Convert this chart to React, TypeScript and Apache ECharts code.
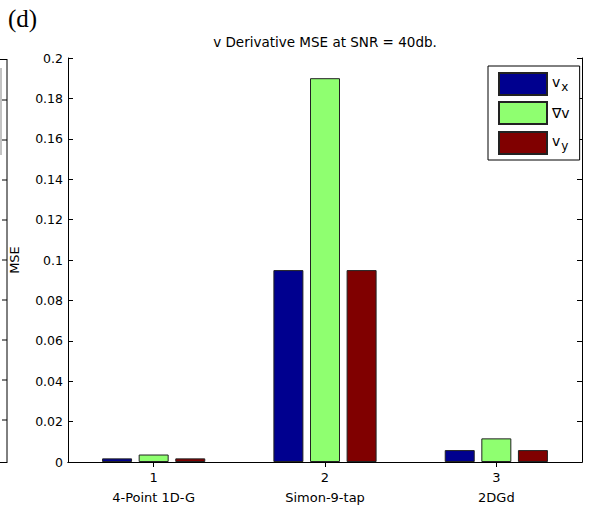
import React, { useEffect, useRef } from "react";
import * as echarts from "echarts";

const categoryNumbers = ["1", "2", "3"];
const methodNames = ["4-Point 1D-G", "Simon-9-tap", "2DGd"];
const seriesNames = ["v_x", "∇v", "v_y"];
const vxValues = [0.0018, 0.095, 0.0059];
const gradValues = [0.0037, 0.19, 0.0117];
const vyValues = [0.0018, 0.095, 0.0059];
const yTicks = { min: 0, max: 0.2, interval: 0.02 };
const titleText = "v Derivative MSE at SNR = 40db.";
const yAxisName = "MSE";
const panelLabel = "(d)";

const colors = ["#00008F", "#8FFF70", "#800000"];
const FONT = "DejaVu Sans";

export default function App() {
  const ref = useRef<HTMLDivElement>(null);
  useEffect(() => {
    if (!ref.current) return;
    const chart = echarts.init(ref.current, undefined, { renderer: "svg" });
    const values = [vxValues, gradValues, vyValues];
    const prevTicks: any[] = [];
    for (let k = 1; k <= 9; k++) {
      const y = 60 + k * 40;
      prevTicks.push({
        type: "line",
        shape: { x1: 2, y1: y, x2: 7, y2: y },
        style: { stroke: "#000", lineWidth: 1 },
        silent: true,
      });
    }
    const option: any = {
      animation: false,
      backgroundColor: "#fff",
      title: {
        text: titleText,
        left: 325,
        top: 35,
        textAlign: "center",
        padding: 0,
        textStyle: { fontFamily: FONT, fontSize: 13.5, fontWeight: "normal", color: "#000" },
      },
      grid: { left: 68, right: 13, top: 58, bottom: 46, containLabel: false },
      legend: {
        orient: "vertical",
        left: 488,
        top: 66,
        padding: [5, 10, 5, 10],
        itemGap: 5,
        itemWidth: 48,
        itemHeight: 22,
        icon: "rect",
        borderColor: "#000",
        borderWidth: 1,
        backgroundColor: "#fff",
        data: seriesNames,
        formatter: (name: string) => {
          if (name === "v_x") return "{v|v}{s|x}";
          if (name === "v_y") return "{v|v}{s|y}";
          return "{g|" + name + "}";
        },
        textStyle: {
          fontFamily: FONT,
          fontSize: 14,
          color: "#000",
          rich: {
            v: { fontFamily: FONT, fontSize: 14, color: "#000", verticalAlign: "top", lineHeight: 18 },
            g: { fontFamily: FONT, fontSize: 14, color: "#000", lineHeight: 18 },
            s: { fontFamily: FONT, fontSize: 12, color: "#000", verticalAlign: "bottom", lineHeight: 12, padding: [10, 0, 0, 1] },
          },
        },
      },
      xAxis: [
        {
          type: "category",
          data: categoryNumbers,
          position: "bottom",
          axisLine: { show: true, lineStyle: { color: "#000", width: 1 } },
          axisTick: { show: true, inside: true, length: 5, alignWithLabel: true, lineStyle: { color: "#000" } },
          axisLabel: {
            margin: 5,
            fontFamily: FONT,
            fontSize: 13,
            color: "#000",
            lineHeight: 20,
            formatter: (v: string, i: number) => v + "\n" + methodNames[i],
          },
          splitLine: { show: false },
        },
        {
          type: "category",
          data: categoryNumbers,
          position: "top",
          axisLine: { show: true, lineStyle: { color: "#000", width: 1 } },
          axisTick: { show: true, inside: true, length: 5, alignWithLabel: true, lineStyle: { color: "#000" } },
          axisLabel: { show: false },
          splitLine: { show: false },
        },
      ],
      yAxis: [
        {
          type: "value",
          min: yTicks.min,
          max: yTicks.max,
          interval: yTicks.interval,
          name: yAxisName,
          nameLocation: "middle",
          nameRotate: 90,
          nameGap: 47,
          nameTextStyle: { fontFamily: FONT, fontSize: 13, color: "#000" },
          axisLine: { show: true, lineStyle: { color: "#000", width: 1 } },
          axisTick: { show: true, inside: true, length: 5, lineStyle: { color: "#000" } },
          axisLabel: {
            margin: 5,
            fontFamily: FONT,
            fontSize: 12.5,
            color: "#000",
            formatter: (v: number) => String(parseFloat(v.toFixed(2))),
          },
          splitLine: { show: false },
        },
        {
          type: "value",
          position: "right",
          min: yTicks.min,
          max: yTicks.max,
          interval: yTicks.interval,
          axisLine: { show: true, lineStyle: { color: "#000", width: 1 } },
          axisTick: { show: true, inside: true, length: 5, lineStyle: { color: "#000" } },
          axisLabel: { show: false },
          splitLine: { show: false },
        },
      ],
      series: seriesNames.map((name, i) => ({
        name,
        type: "bar",
        xAxisIndex: 0,
        yAxisIndex: 0,
        data: values[i],
        barWidth: 30,
        barGap: "22%",
        itemStyle: { color: colors[i], borderColor: "#222", borderWidth: 1 },
      })),
      graphic: [
        {
          type: "text",
          left: 8,
          top: 6,
          style: { text: panelLabel, fontFamily: "Liberation Serif", fontSize: 25, fill: "#000" },
        },
        {
          type: "line",
          shape: { x1: 7, y1: 59, x2: 7, y2: 463 },
          style: { stroke: "#000", lineWidth: 1 },
          silent: true,
        },
        {
          type: "line",
          shape: { x1: 0, y1: 59.5, x2: 7, y2: 59.5 },
          style: { stroke: "#000", lineWidth: 1 },
          silent: true,
        },
        {
          type: "line",
          shape: { x1: 0, y1: 462.5, x2: 7, y2: 462.5 },
          style: { stroke: "#000", lineWidth: 1 },
          silent: true,
        },
        {
          type: "line",
          shape: { x1: 1, y1: 68, x2: 1, y2: 155 },
          style: { stroke: "#888", lineWidth: 1 },
          silent: true,
        },
        ...prevTicks,
      ],
    };
    chart.setOption(option);
    return () => chart.dispose();
  }, []);
  return (
    <div
      ref={ref}
      style={{ position: "fixed", left: 0, top: 0, width: 595, height: 508, background: "#fff" }}
    />
  );
}
